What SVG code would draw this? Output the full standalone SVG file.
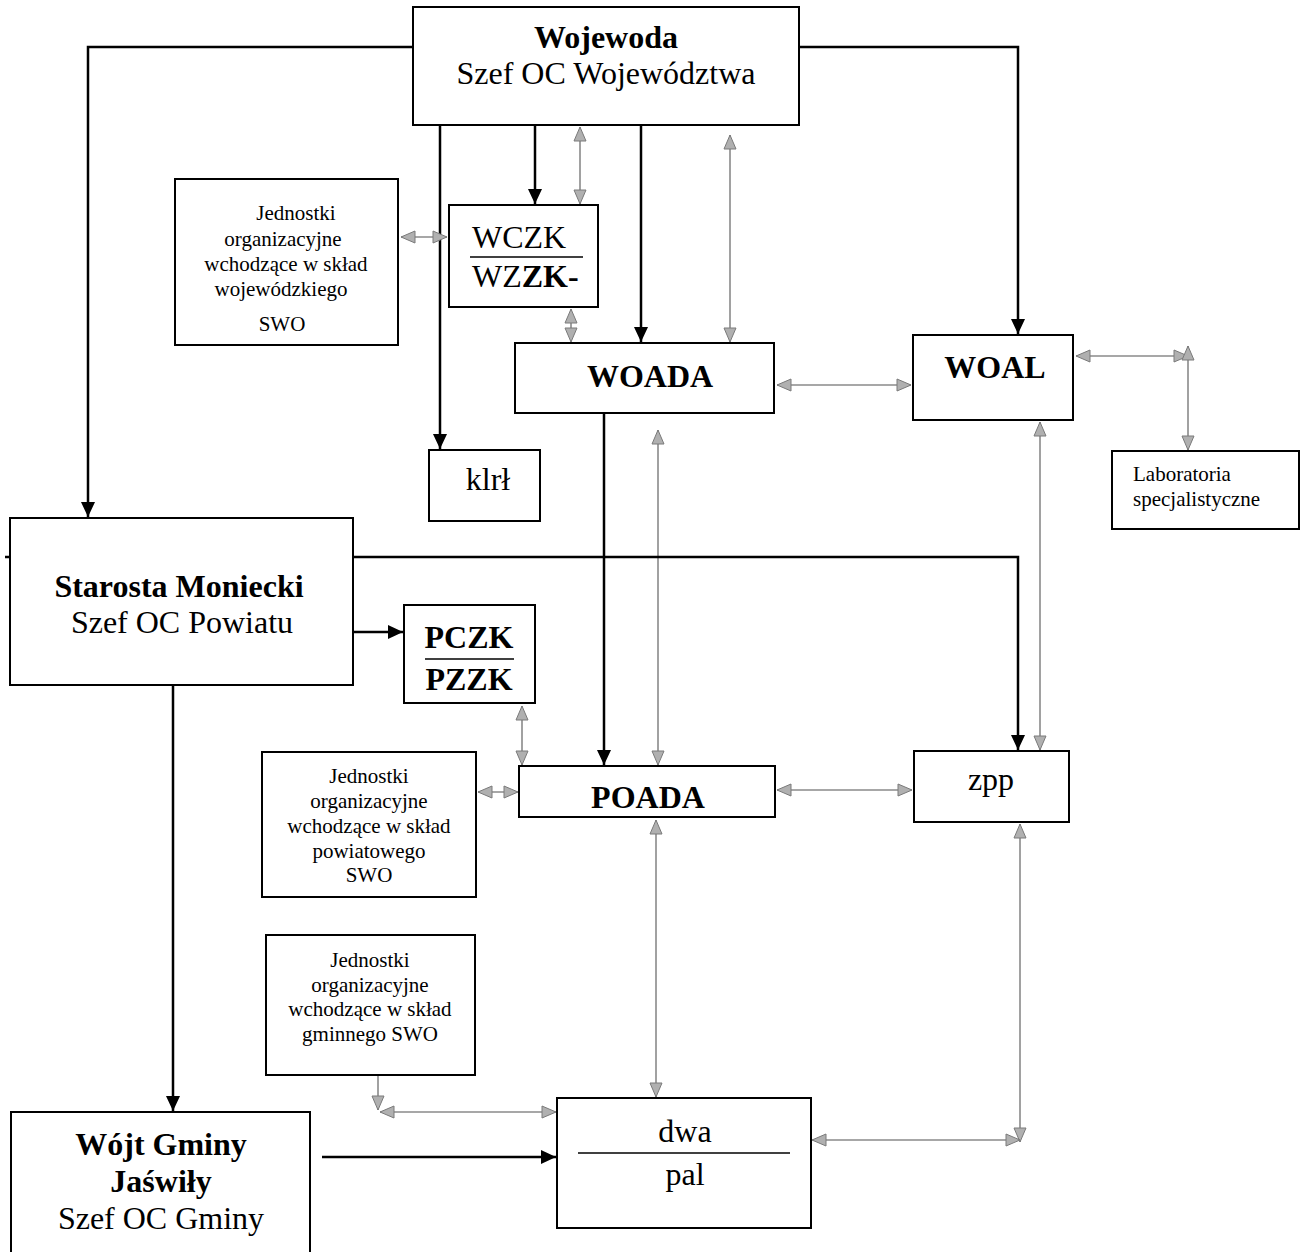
<svg xmlns="http://www.w3.org/2000/svg" width="1301" height="1252" viewBox="0 0 1301 1252">
<style>
.box{fill:#fff;stroke:#000;stroke-width:2}
.t{font-family:"Liberation Serif","Times New Roman",serif;fill:#000}
.big{font-size:32px}
.sm{font-size:21px}
.b{font-weight:bold}
.blk{fill:none;stroke:#000;stroke-width:2.5}
.gry{fill:none;stroke:#8a8a8a;stroke-width:1.6}
.sep{stroke:#000;stroke-width:1.5}
</style>
<defs>
<marker id="ab" markerUnits="userSpaceOnUse" markerWidth="16" markerHeight="14" refX="15" refY="7" orient="auto">
<path d="M0,0 L15,7 L0,14 z" fill="#000"/>
</marker>
<marker id="ag" markerUnits="userSpaceOnUse" markerWidth="16" markerHeight="14" refX="15" refY="7" orient="auto-start-reverse">
<path d="M1,1 L15,7 L1,13 z" fill="#b0b0b0" stroke="#7a7a7a" stroke-width="1"/>
</marker>
</defs>
<rect width="1301" height="1252" fill="#fff"/>
<g id="connectors">
<path class="blk" d="M413,47 H88 V517" marker-end="url(#ab)"/>
<path class="blk" d="M799,47 H1018 V334" marker-end="url(#ab)"/>
<path class="blk" d="M440,125 V449" marker-end="url(#ab)"/>
<path class="blk" d="M535,125 V204" marker-end="url(#ab)"/>
<path class="gry" d="M580,127 V204" marker-start="url(#ag)" marker-end="url(#ag)"/>
<path class="blk" d="M641,125 V342" marker-end="url(#ab)"/>
<path class="gry" d="M730,135 V342" marker-start="url(#ag)" marker-end="url(#ag)"/>
<path class="gry" d="M401,237 H447" marker-start="url(#ag)" marker-end="url(#ag)"/>
<path class="gry" d="M571,309 V342" marker-start="url(#ag)" marker-end="url(#ag)"/>
<path class="gry" d="M777,385 H911" marker-start="url(#ag)" marker-end="url(#ag)"/>
<path class="gry" d="M1076,356 H1188" marker-start="url(#ag)" marker-end="url(#ag)"/>
<path class="gry" d="M1188,346 V450" marker-start="url(#ag)" marker-end="url(#ag)"/>
<path class="blk" d="M604,414 V765" marker-end="url(#ab)"/>
<path class="gry" d="M658,430 V765" marker-start="url(#ag)" marker-end="url(#ag)"/>
<path class="blk" d="M5,557 H1018 V750" marker-end="url(#ab)"/>
<path class="gry" d="M1040,422 V750" marker-start="url(#ag)" marker-end="url(#ag)"/>
<path class="blk" d="M353,632 H403" marker-end="url(#ab)"/>
<path class="gry" d="M522,706 V765" marker-start="url(#ag)" marker-end="url(#ag)"/>
<path class="gry" d="M478,792 H518" marker-start="url(#ag)" marker-end="url(#ag)"/>
<path class="gry" d="M777,790 H912" marker-start="url(#ag)" marker-end="url(#ag)"/>
<path class="gry" d="M656,820 V1097" marker-start="url(#ag)" marker-end="url(#ag)"/>
<path class="gry" d="M1020,824 V1142" marker-start="url(#ag)" marker-end="url(#ag)"/>
<path class="gry" d="M1020,1140 H812" marker-start="url(#ag)" marker-end="url(#ag)"/>
<path class="gry" d="M378,1076 V1110" marker-end="url(#ag)"/>
<path class="gry" d="M380,1112 H556" marker-start="url(#ag)" marker-end="url(#ag)"/>
<path class="blk" d="M322,1157 H556" marker-end="url(#ab)"/>
<path class="blk" d="M173,686 V1111" marker-end="url(#ab)"/>
</g>
<g id="wojewoda">
<rect class="box" x="413" y="7" width="386" height="118"/>
<text class="t big b" x="606" y="48" text-anchor="middle">Wojewoda</text>
<text class="t big" x="606" y="84" text-anchor="middle">Szef OC Województwa</text>
</g>
<g id="jednostki-woj">
<rect class="box" x="175" y="179" width="223" height="166"/>
<text class="t sm" text-anchor="middle"><tspan x="296" y="220">Jednostki</tspan><tspan x="283" y="246">organizacyjne</tspan><tspan x="286" y="271">wchodzące w skład</tspan><tspan x="281" y="296">wojewódzkiego</tspan><tspan x="282" y="331">SWO</tspan></text>
</g>
<g id="wczk">
<rect class="box" x="449" y="205" width="149" height="102"/>
<text class="t big" x="472" y="248">WCZK</text>
<line class="sep" x1="470" y1="257" x2="583" y2="257"/>
<text class="t big" x="472" y="287">WZ<tspan class="b">ZK-</tspan></text>
</g>
<g id="woada">
<rect class="box" x="515" y="343" width="259" height="70"/>
<text class="t big b" x="650" y="387" text-anchor="middle">WOADA</text>
</g>
<g id="woal">
<rect class="box" x="913" y="335" width="160" height="85"/>
<text class="t big b" x="995" y="378" text-anchor="middle">WOAL</text>
</g>
<g id="klrl">
<rect class="box" x="429" y="450" width="111" height="71"/>
<text class="t big" x="488" y="490" text-anchor="middle">klrł</text>
</g>
<g id="laboratoria">
<rect class="box" x="1112" y="451" width="187" height="78"/>
<text class="t sm"><tspan x="1133" y="481">Laboratoria</tspan><tspan x="1133" y="506">specjalistyczne</tspan></text>
</g>
<g id="starosta">
<rect class="box" x="10" y="518" width="343" height="167"/>
<text class="t big b" x="179" y="597" text-anchor="middle">Starosta Moniecki</text>
<text class="t big" x="182" y="633" text-anchor="middle">Szef OC Powiatu</text>
</g>
<g id="pczk">
<rect class="box" x="404" y="605" width="131" height="98"/>
<text class="t big b" x="469" y="648" text-anchor="middle">PCZK</text>
<line class="sep" x1="425" y1="659" x2="514" y2="659"/>
<text class="t big b" x="469" y="690" text-anchor="middle">PZZK</text>
</g>
<g id="jednostki-pow">
<rect class="box" x="262" y="752" width="214" height="145"/>
<text class="t sm" text-anchor="middle"><tspan x="369" y="783">Jednostki</tspan><tspan x="369" y="808">organizacyjne</tspan><tspan x="369" y="833">wchodzące w skład</tspan><tspan x="369" y="858">powiatowego</tspan><tspan x="369" y="882">SWO</tspan></text>
</g>
<g id="poada">
<rect class="box" x="519" y="766" width="256" height="51"/>
<text class="t big b" x="648" y="808" text-anchor="middle">POADA</text>
</g>
<g id="zpp">
<rect class="box" x="914" y="751" width="155" height="71"/>
<text class="t big" x="991" y="790" text-anchor="middle">zpp</text>
</g>
<g id="jednostki-gm">
<rect class="box" x="266" y="935" width="209" height="140"/>
<text class="t sm" text-anchor="middle"><tspan x="370" y="967">Jednostki</tspan><tspan x="370" y="992">organizacyjne</tspan><tspan x="370" y="1016">wchodzące w skład</tspan><tspan x="370" y="1041">gminnego SWO</tspan></text>
</g>
<g id="dwa-pal">
<rect class="box" x="557" y="1098" width="254" height="130"/>
<text class="t big" x="685" y="1142" text-anchor="middle">dwa</text>
<line class="sep" x1="578" y1="1153" x2="790" y2="1153"/>
<text class="t big" x="685" y="1185" text-anchor="middle">pal</text>
</g>
<g id="wojt">
<rect class="box" x="11" y="1112" width="299" height="150"/>
<text class="t big b" x="161" y="1155" text-anchor="middle">Wójt Gminy</text>
<text class="t big b" x="161" y="1192" text-anchor="middle">Jaświły</text>
<text class="t big" x="161" y="1229" text-anchor="middle">Szef OC Gminy</text>
</g>
</svg>
